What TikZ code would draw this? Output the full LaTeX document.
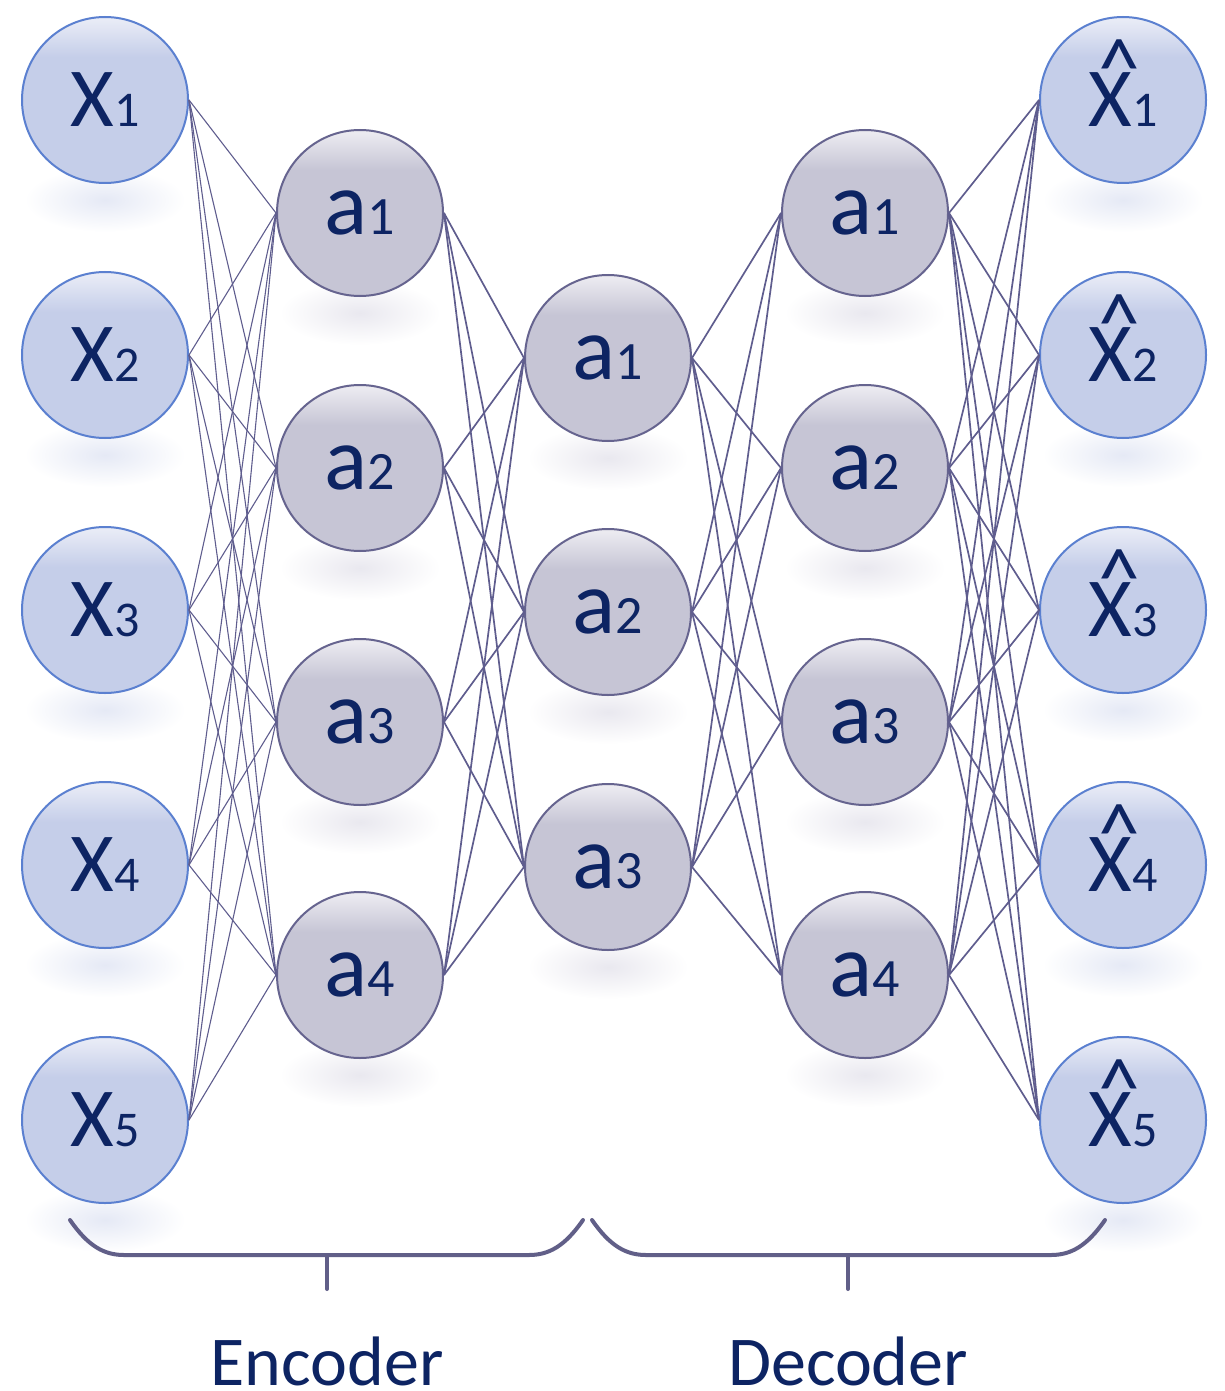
\documentclass[tikz,border=0pt]{standalone}
\usepackage{fontspec}
\setmainfont{Carlito}
\usetikzlibrary{positioning,fadings}

\definecolor{inblue}{HTML}{C5CEE9}
\definecolor{inbluetop}{HTML}{E8EBF6}
\definecolor{inrim}{HTML}{5B80D0}
\definecolor{hidgray}{HTML}{C6C5D5}
\definecolor{hidgraytop}{HTML}{EBEAF0}
\definecolor{hidrim}{HTML}{66648F}
\definecolor{wire}{HTML}{5F5D8E}
\definecolor{navy}{HTML}{0D2463}
\definecolor{inglowcol}{HTML}{E5E9F5}
\definecolor{hidglowcol}{HTML}{E9E8EF}

\pgfdeclareverticalshading{inshade}{100bp}{color(0bp)=(inblue); color(63bp)=(inblue); color(74bp)=(inbluetop); color(100bp)=(inbluetop)}
\pgfdeclareverticalshading{hidshade}{100bp}{color(0bp)=(hidgray); color(63bp)=(hidgray); color(74bp)=(hidgraytop); color(100bp)=(hidgraytop)}
\tikzfading[name=glowfade, inner color=transparent!0, outer color=transparent!100]

\newcommand{\xlab}[1]{X{\fontsize{25}{25}\selectfont #1}}
\newcommand{\xhatlab}[1]{\makebox[0pt][l]{\raisebox{0.36em}[0pt][0pt]{\kern0.12em\textasciicircum}}X{\fontsize{25}{25}\selectfont #1}}
\newcommand{\alab}[1]{a{\fontsize{27}{27}\selectfont #1}}

\tikzset{
  innode/.style={circle, draw=inrim, line width=1pt, shading=inshade, minimum size=83pt, inner sep=0pt, text=navy, font=\fontsize{42}{42}\selectfont},
  hidnode/.style={circle, draw=hidrim, line width=1pt, shading=hidshade, minimum size=83pt, inner sep=0pt, text=navy, font=\fontsize{45}{45}\selectfont},
  wirethin/.style={draw=wire, line width=0.55pt},
  wirethick/.style={draw=wire, line width=0.85pt},
  bracket/.style={draw=hidrim!95!black, line width=2pt, line cap=round, line join=round},
  inglow/.style={fill=inglowcol, path fading=glowfade},
  hidglow/.style={fill=hidglowcol, path fading=glowfade},
  caption/.style={anchor=base, inner sep=0pt, text=navy, font=\fontsize{35}{35}\selectfont}
}

\begin{document}
\begin{tikzpicture}[x=0.5pt, y=-0.5pt]
\useasboundingbox (0,0) rectangle (1225,1391);

\foreach \xx/\yy in {105/100,105/355,105/610,105/865,105/1120,
                     1123/100,1123/355,1123/610,1123/865,1123/1120}
  \path[inglow] (\xx,\yy+100) ellipse (80 and 32);
\foreach \xx/\yy in {360/213,360/468,360/722,360/975,
                     608/358,608/612,608/867,
                     865/213,865/468,865/722,865/975}
  \path[hidglow] (\xx,\yy+100) ellipse (80 and 32);

\foreach \yy [count=\i] in {100,355,610,865,1120}
  \node[innode] (x\i) at (105,\yy) {\xlab{\i}};
\foreach \yy [count=\i] in {213,468,722,975}
  \node[hidnode] (e\i) at (360,\yy) {\alab{\i}};
\foreach \yy [count=\i] in {358,612,867}
  \node[hidnode] (m\i) at (608,\yy) {\alab{\i}};
\foreach \yy [count=\i] in {213,468,722,975}
  \node[hidnode] (d\i) at (865,\yy) {\alab{\i}};
\foreach \yy [count=\i] in {100,355,610,865,1120}
  \node[innode] (y\i) at (1123,\yy) {\xhatlab{\i}};

\foreach \i in {1,...,5}
  \foreach \j in {1,...,4}
    \draw[wirethin] (x\i.east) -- (e\j.west);
\foreach \i in {1,...,4}
  \foreach \j in {1,...,3}
    \draw[wirethick] (e\i.east) -- (m\j.west);
\foreach \i in {1,...,3}
  \foreach \j in {1,...,4}
    \draw[wirethick] (m\i.east) -- (d\j.west);
\foreach \i in {1,...,4}
  \foreach \j in {1,...,5}
    \draw[wirethick] (d\i.east) -- (y\j.west);

% braces
\draw[bracket] (70,1220) .. controls (88,1246) and (104,1255) .. (124,1255) -- (529,1255)
  .. controls (549,1255) and (565,1246) .. (583,1220);
\draw[bracket] (327,1255) -- (327,1289);
\draw[bracket] (592,1220) .. controls (610,1246) and (626,1255) .. (646,1255) -- (1051,1255)
  .. controls (1071,1255) and (1087,1246) .. (1105,1220);
\draw[bracket] (848,1255) -- (848,1289);

\node[caption] (enc) at (327,1385) {Encoder};
\node[caption] (dec) at (848,1385) {Decoder};
\end{tikzpicture}
\end{document}
